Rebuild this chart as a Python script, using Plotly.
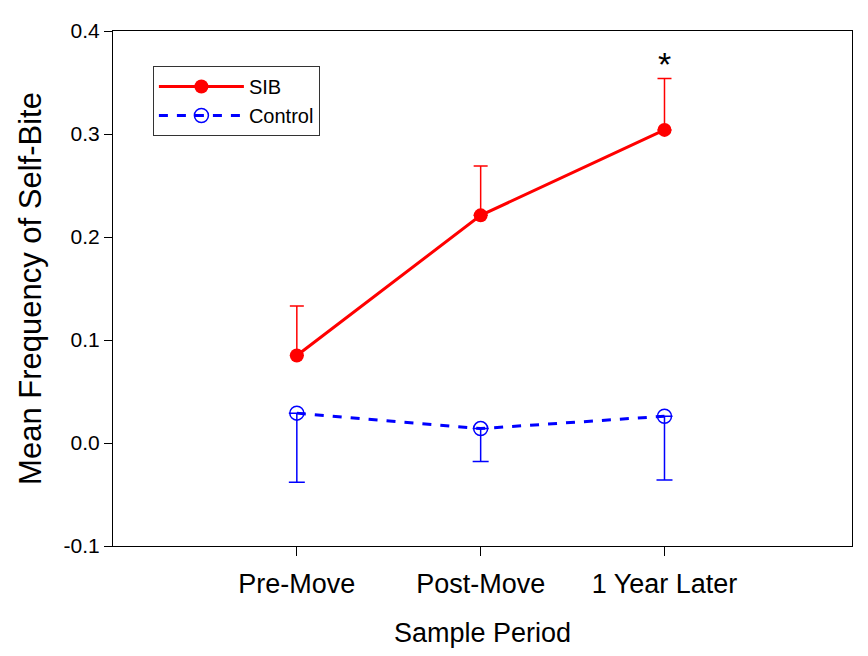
import plotly.graph_objects as go

periods = ["Pre-Move", "Post-Move", "1 Year Later"]
sib_mean = [0.085, 0.221, 0.304]
sib_err_up = [0.048, 0.048, 0.050]
ctrl_mean = [0.029, 0.014, 0.026]
ctrl_err_down = [0.067, 0.032, 0.062]
zeros = [0, 0, 0]

ytick_vals = [-0.1, 0.0, 0.1, 0.2, 0.3, 0.4]
ytick_text = ["-0.1", "0.0", "0.1", "0.2", "0.3", "0.4"]
font = "Liberation Sans, Arial, sans-serif"

fig = go.Figure()

fig.add_trace(go.Scatter(
    x=periods, y=sib_mean, name="SIB", mode="lines+markers",
    line=dict(color="#FF0000", width=3),
    marker=dict(symbol="circle", size=14, color="#FF0000"),
    error_y=dict(type="data", symmetric=False, array=sib_err_up, arrayminus=zeros,
                 color="#FF0000", thickness=1.5, width=7),
))
fig.add_trace(go.Scatter(
    x=periods, y=ctrl_mean, name="Control", mode="lines+markers",
    line=dict(color="#0000FF", width=3, dash="dash"),
    marker=dict(symbol="circle-open", size=14, color="#0000FF", line=dict(width=1.5, color="#0000FF")),
    error_y=dict(type="data", symmetric=False, array=zeros, arrayminus=ctrl_err_down,
                 color="#0000FF", thickness=1.5, width=8),
))

fig.add_annotation(x=periods[2], y=0.368, text="*", showarrow=False,
                   font=dict(size=34, color="black", family=font))

# page body adds an 8px offset, so the figure is sized to fit the window
fig.update_layout(
    width=852, height=640,
    margin=dict(l=105, r=8, t=23, b=102),
    paper_bgcolor="white", plot_bgcolor="white",
    font=dict(family=font, color="black"),
    showlegend=True,
    legend=dict(x=0.054, y=0.932, xanchor="left", yanchor="top",
                bgcolor="white", bordercolor="#333333", borderwidth=1,
                font=dict(size=20, family=font), tracegroupgap=0,
                itemwidth=85),
)
fig.update_xaxes(
    type="category", range=[-1, 3.02], automargin=False,
    showline=True, linecolor="black", linewidth=1.2, mirror=True,
    ticks="outside", ticklen=9, tickcolor="black", tickwidth=1.2,
    showgrid=False, zeroline=False,
    tickfont=dict(size=27, family=font), ticklabelstandoff=4,
    title=dict(text="Sample Period", font=dict(size=27, family=font), standoff=26),
)
fig.update_yaxes(
    range=[-0.1, 0.4], tickvals=ytick_vals, ticktext=ytick_text, automargin=False,
    showline=True, linecolor="black", linewidth=1.2, mirror=True,
    ticks="outside", ticklen=8, tickcolor="black", tickwidth=1.2,
    showgrid=False, zeroline=False,
    tickfont=dict(size=21, family=font),
    title=dict(text="Mean Frequency of Self-Bite", font=dict(size=31, family=font), standoff=12),
)

fig.write_html("out.html")
